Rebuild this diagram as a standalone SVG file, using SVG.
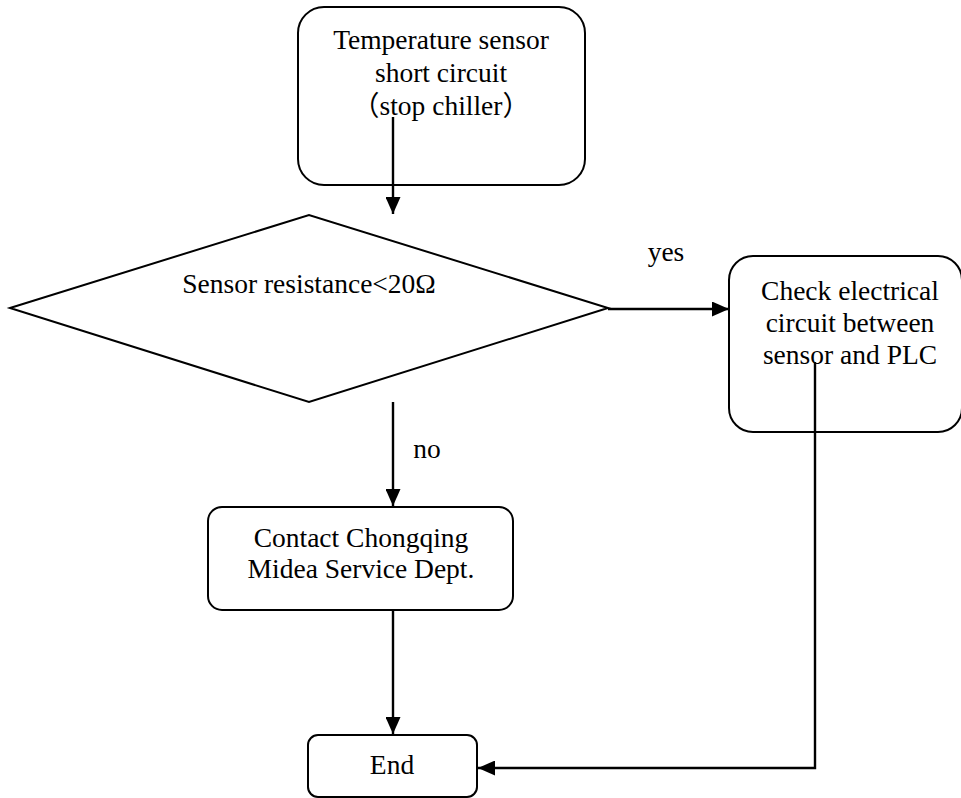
<svg xmlns="http://www.w3.org/2000/svg" width="961" height="798" viewBox="0 0 961 798">
<style>
.box{fill:#fff;stroke:#000;stroke-width:2}
.t{font-family:"Liberation Serif","Noto Sans CJK SC",serif;font-size:27.5px;fill:#000;text-anchor:middle}
.c{fill:none;stroke:#000;stroke-width:2.4}
</style>
<defs>
<marker id="ah" markerUnits="userSpaceOnUse" markerWidth="17" markerHeight="15" refX="17" refY="7.5" orient="auto">
<path d="M0,0 L17,7.5 L0,15 Z" fill="#000"/>
</marker>
</defs>
<g id="start">
<rect class="box" x="298" y="7" width="287" height="178" rx="26"/>
<text class="t" x="441" y="49">Temperature sensor</text>
<text class="t" x="441" y="82">short circuit</text>
<text class="t" x="441" y="115">（stop chiller）</text>
</g>
<g id="decision">
<polygon class="box" points="10,308 309,215 608,308 309,402"/>
<text class="t" x="309" y="293">Sensor resistance&lt;20Ω</text>
</g>
<g id="check">
<rect class="box" x="729" y="256" width="233" height="176" rx="24"/>
<text class="t" x="850" y="300">Check electrical</text>
<text class="t" x="850" y="332">circuit between</text>
<text class="t" x="850" y="364">sensor and PLC</text>
</g>
<g id="contact">
<rect class="box" x="208" y="507" width="305" height="103" rx="14"/>
<text class="t" x="361" y="547">Contact Chongqing</text>
<text class="t" x="361" y="578">Midea Service Dept.</text>
</g>
<g id="end">
<rect class="box" x="308" y="735" width="169" height="62" rx="10"/>
<text class="t" x="392" y="774">End</text>
</g>
<g id="connectors">
<line class="c" x1="393" y1="117" x2="393" y2="214" marker-end="url(#ah)"/>
<line class="c" x1="608" y1="309" x2="729" y2="309" marker-end="url(#ah)"/>
<text class="t" x="666" y="261">yes</text>
<line class="c" x1="393" y1="402" x2="393" y2="506" marker-end="url(#ah)"/>
<text class="t" x="427" y="458">no</text>
<line class="c" x1="393" y1="610" x2="393" y2="734" marker-end="url(#ah)"/>
<polyline class="c" points="815,362 815,768 478,768" marker-end="url(#ah)"/>
</g>
</svg>
